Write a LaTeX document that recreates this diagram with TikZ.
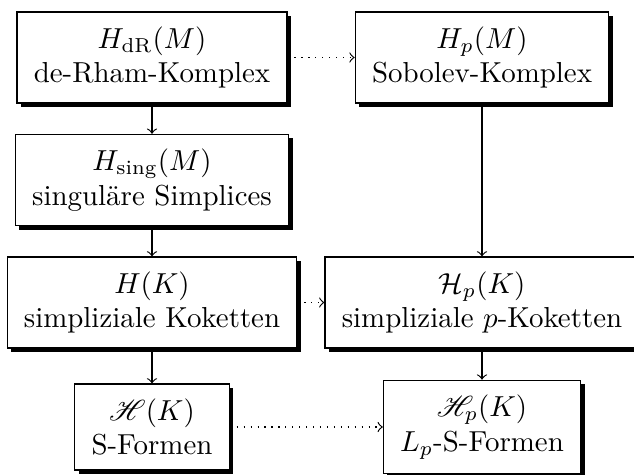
\documentclass[tikz,border=0pt]{standalone}
\usepackage{fontspec}
\usepackage{mathrsfs}
\usetikzlibrary{shadows}

\begin{document}
\begin{tikzpicture}[x=0.346pt, y=-0.346pt,
  box/.style={draw, fill=white, align=center, inner xsep=5.8pt, inner ysep=5pt,
    drop shadow={shadow xshift=1.4pt, shadow yshift=-1.4pt, fill=black, opacity=1}}]

\useasboundingbox (0,0) rectangle (634,474);

% linke Spalte: glatte und simpliziale Komplexe
\path
(152,57.5) node[box] (dR) {$H_{\mathrm{dR}}(M)$\\ de-Rham-Komplex}
(152,180) node[box] (sing) {$H_{\mathrm{sing}}(M)$\\ singuläre Simplices}
(152,302.5) node[box] (K) {$H(K)$\\ simpliziale Koketten}
(152,427) node[box] (S) {$\mathscr{H}(K)$\\ S-Formen};

% rechte Spalte: die $L_p$-Varianten
\path
(482,57.5) node[box] (Sob) {$H_p(M)$\\ Sobolev-Komplex}
(482,302.5) node[box] (Kp) {$\mathcal{H}_p(K)$\\ simpliziale $p$-Koketten}
(482,427) node[box] (Sp) {$\mathscr{H}_p(K)$\\ $L_p$-S-Formen};

\draw[->] (dR) -- (sing);
\draw[->] (sing) -- (K);
\draw[->] (K) -- (S);
\draw[->] (Sob) -- (Kp);
\draw[->] (Kp) -- (Sp);

\draw[->, dotted] (dR) -- (Sob);
\draw[->, dotted] (K) -- (Kp);
\draw[->, dotted] (S) -- (Sp);

\end{tikzpicture}
\end{document}
